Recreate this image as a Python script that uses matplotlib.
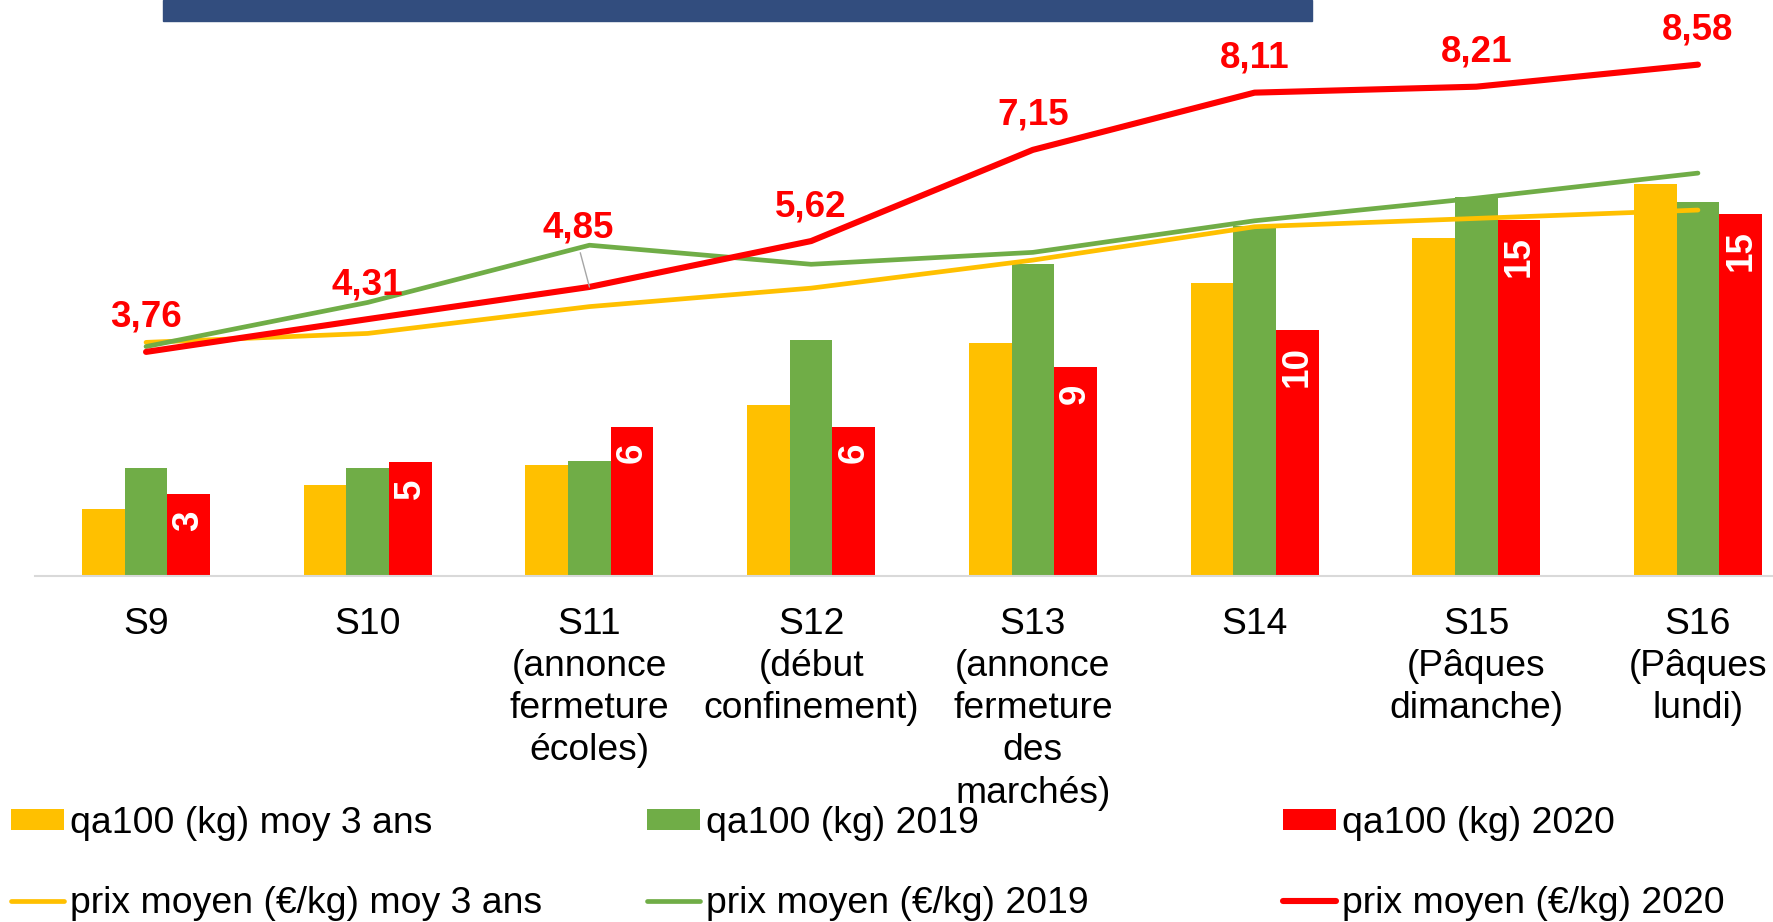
import matplotlib
matplotlib.use('Agg')
import matplotlib.pyplot as plt
from matplotlib.patches import Rectangle
import numpy as np

plt.rcParams['font.family'] = ['Liberation Sans', 'DejaVu Sans']

W, H, DPI = 1773, 922, 100

categories = ["S9", "S10", "S11\n(annonce\nfermeture\nécoles)", "S12\n(début\nconfinement)",
              "S13\n(annonce\nfermeture\ndes\nmarchés)", "S14", "S15\n(Pâques\ndimanche)",
              "S16\n(Pâques\nlundi)"]

qa_moy3 = [2.79, 3.78, 4.63, 7.14, 9.70, 12.21, 14.07, 16.32]
qa_2019 = [4.49, 4.51, 4.80, 9.83, 13.00, 14.58, 15.78, 15.58]
qa_2020 = [3.40, 4.74, 6.22, 6.22, 8.70, 10.24, 14.83, 15.07]

prix_moy3 = [3.92, 4.07, 4.52, 4.83, 5.30, 5.86, 6.00, 6.14]
prix_2019 = [3.85, 4.59, 5.55, 5.23, 5.43, 5.96, 6.34, 6.76]
prix_2020 = [3.76, 4.31, 4.85, 5.62, 7.15, 8.11, 8.21, 8.58]

bar_labels = ["qa100 (kg) moy 3 ans", "qa100 (kg) 2019", "qa100 (kg) 2020"]
line_labels = ["prix moyen (€/kg) moy 3 ans", "prix moyen (€/kg) 2019", "prix moyen (€/kg) 2020"]

YELLOW, GREEN, RED = '#FFC000', '#70AD47', '#FF0000'

fig = plt.figure(figsize=(W / DPI, H / DPI), dpi=DPI)
base_y = 576
ax = fig.add_axes([35.2 / W, (H - base_y) / H, 1773.6 / W, base_y / H])
x = np.arange(len(categories))
w = 0.1926
ax.set_xlim(-0.5, 7.5)
ax.set_ylim(0, base_y / 24.0)

b1 = ax.bar(x - w, qa_moy3, w, color=YELLOW, linewidth=0)
b2 = ax.bar(x, qa_2019, w, color=GREEN, linewidth=0)
b3 = ax.bar(x + w, qa_2020, w, color=RED, linewidth=0)

for xi, v in zip(x, qa_2020):
    ax.annotate(f"{v:.0f}", (xi + w, v), xytext=(0, -16), textcoords='offset pixels',
                rotation=90, ha='center', va='top', color='white', fontsize=26.5,
                fontweight='bold')

ax.set_xticks(x, categories)
ax.tick_params(axis='x', length=0, pad=22, labelsize=26.8, colors='black')
for lbl in ax.get_xticklabels():
    lbl.set_linespacing(1.27)
ax.set_yticks([])
for s in ['top', 'left', 'right']:
    ax.spines[s].set_visible(False)
ax.spines['bottom'].set_color('#D9D9D9')
ax.spines['bottom'].set_linewidth(1.5)

ax2 = ax.twinx()
ax2.set_ylim(0, base_y / 59.6)
ax2.set_yticks([])
for s in ax2.spines.values():
    s.set_visible(False)

l1, = ax2.plot(x, prix_moy3, color=YELLOW, lw=3.4, solid_capstyle='round')
l2, = ax2.plot(x, prix_2019, color=GREEN, lw=3.4, solid_capstyle='round')
l3, = ax2.plot(x, prix_2020, color=RED, lw=4.4, solid_capstyle='round')

for i, v in enumerate(prix_2020):
    txt = f"{v:.2f}".replace('.', ',')
    if i == 2:
        ax2.annotate(txt, (i, v), xytext=(-11, 49), textcoords='offset pixels',
                     ha='center', va='baseline', color=RED, fontsize=26.5, fontweight='bold',
                     arrowprops=dict(arrowstyle='-', color='#A6A6A6', lw=1.0,
                                     shrinkA=3, shrinkB=0, relpos=(0.5, 0)))
    else:
        ax2.annotate(txt, (i, v), xytext=(0, 25), textcoords='offset pixels',
                     ha='center', va='baseline', color=RED, fontsize=26.5, fontweight='bold')

# legend, three columns
col_x = [11, 647, 1283]
handles = [(b1, l1), (b2, l2), (b3, l3)]
for cx, (bh, lh), bl, ll in zip(col_x, handles, bar_labels, line_labels):
    fig.legend([bh, lh], [bl, ll], loc='upper left',
               bbox_to_anchor=(cx / W, 1 - 806 / H), frameon=False,
               borderpad=0, borderaxespad=0, handlelength=1.42, handleheight=0.5,
               handletextpad=0.16, labelspacing=1.2, fontsize=26.9)

# banner at top
fig.patches.append(Rectangle((163 / W, 1 - 20.7 / H), (1312 - 163) / W, 20.7 / H,
                             transform=fig.transFigure, color='#324D7E', zorder=5))

fig.savefig('out.png', dpi=DPI)
